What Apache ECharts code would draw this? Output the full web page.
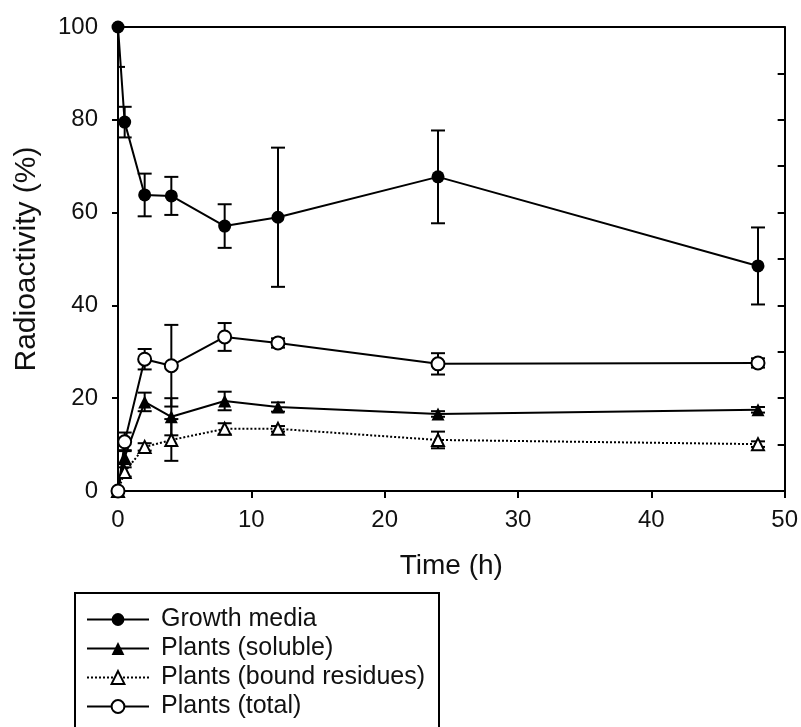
<!DOCTYPE html>
<html>
<head>
<meta charset="utf-8">
<script src="https://cdn.jsdelivr.net/npm/echarts@6/dist/echarts.min.js"></script>
<style>
  html, body { margin: 0; padding: 0; background: #fff; }
  #main { width: 801px; height: 727px; }
</style>
</head>
<body>
<div id="main"></div>
<script>
// sampling times (h)
const times = [0, 0.5, 2, 4, 8, 12, 24, 48];

// radioactivity (%) and error (+/-)
const growthMedia = [100, 79.5, 63.8, 63.6, 57.1, 59, 67.7, 48.5];
const growthMediaErr = [8.6, 3.3, 4.6, 4.1, 4.7, 15, 10, 8.3];
const plantsSoluble = [0, 7.3, 19.2, 16, 19.4, 18.1, 16.6, 17.5];
const plantsSolubleErr = [0, 1.5, 2, 4, 2, 1, 0.6, 0.6];
const plantsBound = [0, 4.1, 9.5, 11, 13.4, 13.4, 11, 10.1];
const plantsBoundErr = [0, 1, 0.8, 4.5, 1.2, 0.6, 1.8, 0.6];
const plantsTotal = [0, 10.6, 28.4, 27, 33.2, 31.9, 27.4, 27.6];
const plantsTotalErr = [0, 2, 2.2, 8.8, 3, 1, 2.3, 1];

const xTicks = [0, 10, 20, 30, 40, 50];
const yTicks = [0, 20, 40, 60, 80, 100];

const FONT = "'Liberation Sans', Arial, sans-serif";

function points(vals) {
  return times.map((t, i) => [t, vals[i]]);
}

function errors(vals, errs) {
  const out = [];
  times.forEach((t, i) => {
    if (errs[i] > 0) out.push([t, vals[i] - errs[i], vals[i] + errs[i]]);
  });
  return out;
}

function renderErrorBar(params, api) {
  const x = api.value(0);
  const top = api.coord([x, api.value(2)]);
  const bot = api.coord([x, api.value(1)]);
  const w = 7;
  const style = { stroke: '#000', lineWidth: 2 };
  return {
    type: 'group',
    children: [
      { type: 'line', shape: { x1: top[0], y1: top[1], x2: bot[0], y2: bot[1] }, style: style },
      { type: 'line', shape: { x1: top[0] - w, y1: top[1], x2: top[0] + w, y2: top[1] }, style: style },
      { type: 'line', shape: { x1: bot[0] - w, y1: bot[1], x2: bot[0] + w, y2: bot[1] }, style: style }
    ]
  };
}

function errSeries(vals, errs) {
  return {
    type: 'custom',
    xAxisIndex: 0,
    yAxisIndex: 0,
    renderItem: renderErrorBar,
    data: errors(vals, errs),
    clip: true,
    z: 1,
    silent: true
  };
}

const myChart = echarts.init(document.getElementById('main'));

const option = {
  backgroundColor: '#fff',
  animation: false,
  textStyle: { fontFamily: FONT, color: '#111' },
  grid: { left: 118, right: 15, top: 27, bottom: 236 },
  legend: {
    orient: 'vertical',
    left: 86,
    top: 607,
    padding: 0,
    itemWidth: 62,
    itemHeight: 16,
    itemGap: 4,
    textStyle: { fontFamily: FONT, fontSize: 25, color: '#111', padding: [0, 0, 0, 7] },
    data: ['Growth media', 'Plants (soluble)', 'Plants (bound residues)', 'Plants (total)']
  },
  graphic: [
    {
      type: 'rect',
      shape: { x: 75, y: 593, width: 364, height: 200 },
      style: { fill: 'none', stroke: '#000', lineWidth: 2 },
      silent: true
    }
  ],
  xAxis: [
    {
      type: 'value',
      min: 0,
      max: 50,
      interval: 10,
      name: 'Time (h)',
      nameLocation: 'middle',
      nameGap: 61,
      nameTextStyle: { fontSize: 28, color: '#111', fontFamily: FONT },
      axisLine: { onZero: false, lineStyle: { color: '#000', width: 2 } },
      axisTick: { inside: false, length: 7, lineStyle: { color: '#000', width: 2 } },
      axisLabel: {
        fontSize: 24, color: '#111', margin: 17, fontFamily: FONT,
        formatter: v => (xTicks.indexOf(v) >= 0 ? String(v) : '')
      },
      splitLine: { show: false }
    },
    {
      type: 'value',
      position: 'top',
      min: 0,
      max: 50,
      interval: 10,
      axisLine: { show: true, onZero: false, lineStyle: { color: '#000', width: 2 } },
      axisTick: { show: false },
      axisLabel: { show: false },
      splitLine: { show: false }
    }
  ],
  yAxis: [
    {
      type: 'value',
      min: 0,
      max: 100,
      interval: 20,
      name: 'Radioactivity (%)',
      nameLocation: 'middle',
      nameGap: 76,
      nameTextStyle: { fontSize: 30, color: '#111', fontFamily: FONT },
      axisLine: { show: true, onZero: false, lineStyle: { color: '#000', width: 2 } },
      axisTick: { show: true, inside: false, length: 6, lineStyle: { color: '#000', width: 2 } },
      axisLabel: {
        fontSize: 24, color: '#111', margin: 20, fontFamily: FONT,
        formatter: v => (yTicks.indexOf(v) >= 0 ? String(v) : '')
      },
      splitLine: { show: false }
    },
    {
      type: 'value',
      position: 'right',
      min: 0,
      max: 100,
      interval: 10,
      axisLine: { show: true, onZero: false, lineStyle: { color: '#000', width: 2 } },
      axisTick: { show: true, inside: true, length: 7, lineStyle: { color: '#000', width: 2 } },
      axisLabel: { show: false },
      splitLine: { show: false }
    }
  ],
  series: [
    errSeries(growthMedia, growthMediaErr),
    errSeries(plantsSoluble, plantsSolubleErr),
    errSeries(plantsBound, plantsBoundErr),
    errSeries(plantsTotal, plantsTotalErr),
    {
      name: 'Growth media',
      type: 'line',
      data: points(growthMedia),
      symbol: 'circle',
      symbolSize: 13,
      itemStyle: { color: '#000' },
      lineStyle: { color: '#000', width: 2 },
      z: 3
    },
    {
      name: 'Plants (soluble)',
      type: 'line',
      data: points(plantsSoluble),
      symbol: 'triangle',
      symbolSize: 13,
      itemStyle: { color: '#000' },
      lineStyle: { color: '#000', width: 2 },
      z: 3
    },
    {
      name: 'Plants (bound residues)',
      type: 'line',
      data: points(plantsBound),
      symbol: 'triangle',
      symbolSize: 12,
      showAllSymbol: true,
      itemStyle: { color: '#fff', borderColor: '#000', borderWidth: 2 },
      lineStyle: { color: '#000', width: 2, type: 'dotted' },
      z: 3
    },
    {
      name: 'Plants (total)',
      type: 'line',
      data: points(plantsTotal),
      symbol: 'circle',
      symbolSize: 13,
      itemStyle: { color: '#fff', borderColor: '#000', borderWidth: 2 },
      lineStyle: { color: '#000', width: 2 },
      z: 3
    }
  ]
};

myChart.setOption(option);
</script>
</body>
</html>
